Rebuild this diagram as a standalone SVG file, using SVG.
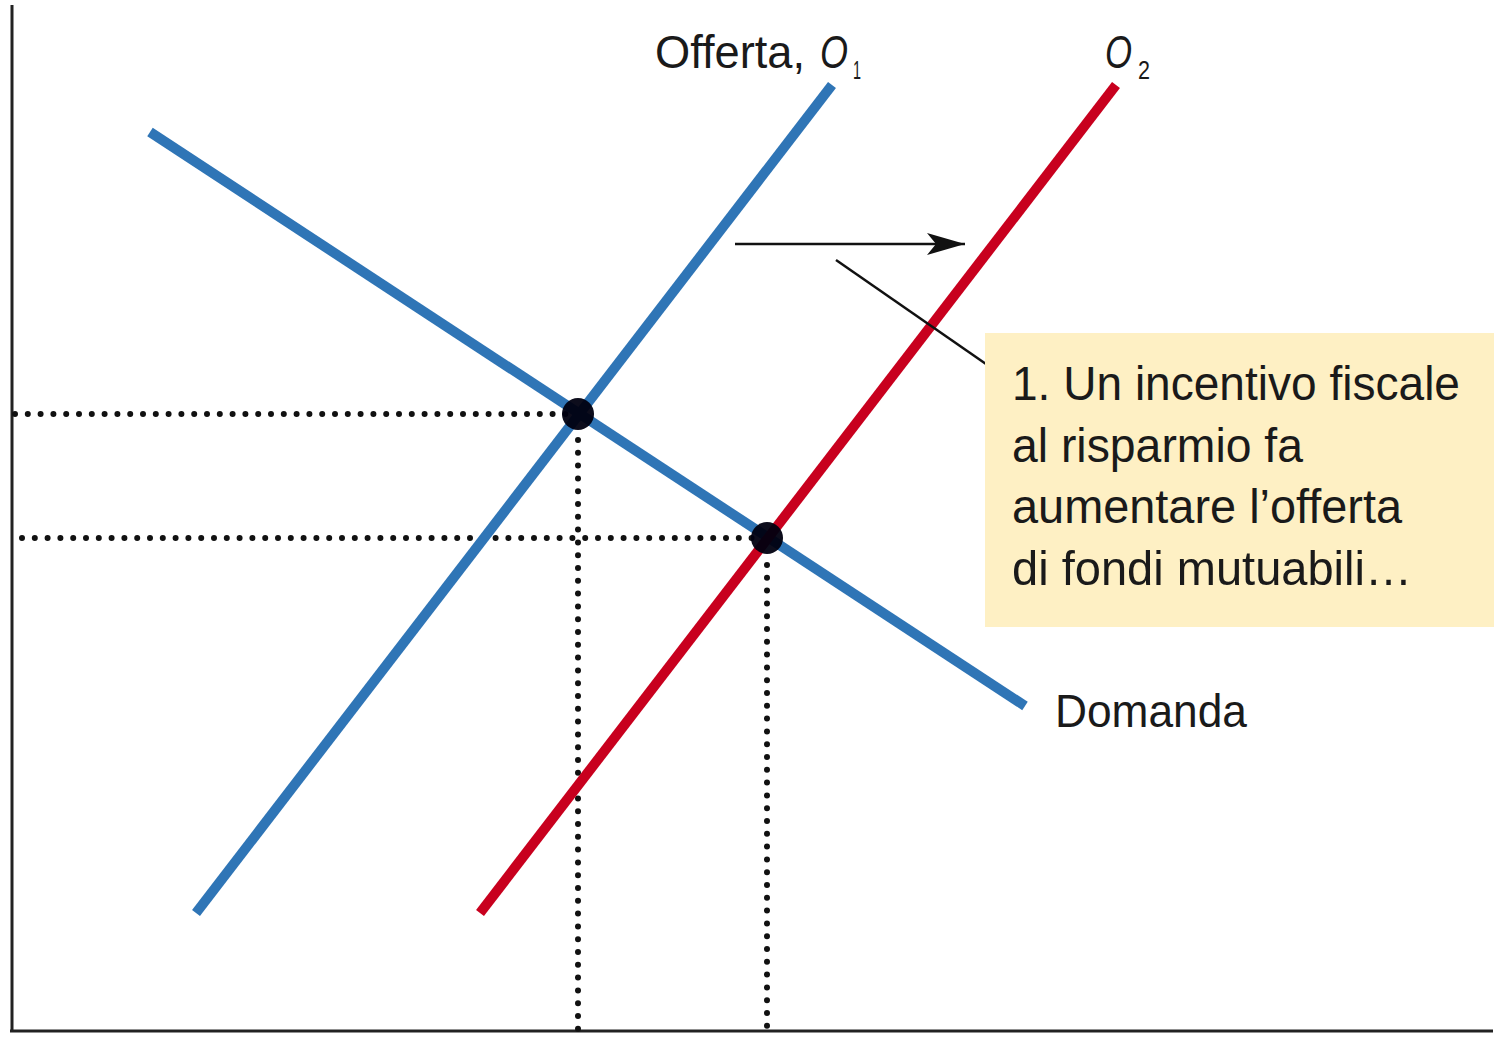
<svg xmlns="http://www.w3.org/2000/svg" width="1501" height="1038" viewBox="0 0 1501 1038">
<style>
.t{font-family:"Liberation Sans Narrow","Liberation Sans",Arial,sans-serif;fill:#1a1a1a;}
.dot{stroke:#111;stroke-width:6;stroke-linecap:round;stroke-dasharray:0 12.8;fill:none;}
.blue{stroke:#2F75B6;stroke-width:10;fill:none;}
.red{stroke:#C8001E;stroke-width:10;fill:none;}
</style>
<defs>
<marker id="ah" markerWidth="40" markerHeight="24" refX="38" refY="12" orient="auto" markerUnits="userSpaceOnUse">
<path d="M0,1 L38,12 L0,23 L9,12 Z" fill="#111"/>
</marker>
</defs>
<rect width="1501" height="1038" fill="#fff"/>
<g id="axes" stroke="#222" stroke-width="3" fill="none">
<line x1="12" y1="5" x2="12" y2="1032"/>
<line x1="10" y1="1031" x2="1493" y2="1031"/>
</g>
<g id="guides">
<line class="dot" x1="15" y1="414" x2="575" y2="414"/>
<line class="dot" x1="22" y1="538" x2="764" y2="538"/>
<line class="dot" x1="578" y1="440" x2="578" y2="1031"/>
<line class="dot" x1="767" y1="565" x2="767" y2="1031"/>
</g>
<g id="connectors">
<line id="demand" class="blue" x1="150" y1="132" x2="1025" y2="706"/>
<line id="supply1" class="blue" x1="196" y1="913" x2="832" y2="85"/>
<line id="supply2" class="red" x1="480" y1="913" x2="1116" y2="85"/>
<line id="shift" x1="735" y1="244" x2="965" y2="244" stroke="#111" stroke-width="2.5" marker-end="url(#ah)"/>
<line id="leader" x1="836" y1="260" x2="986" y2="364" stroke="#111" stroke-width="2.5"/>
</g>
<g id="eq1"><circle cx="578" cy="414" r="16" fill="#000010" opacity="0.95"/></g>
<g id="eq2"><circle cx="767" cy="538" r="16" fill="#000010" opacity="0.95"/></g>
<g id="label-o1">
<text class="t" x="655" y="68" font-size="46" textLength="150" lengthAdjust="spacingAndGlyphs">Offerta,</text>
<text class="t" x="820" y="68" font-size="46" font-style="italic" textLength="28" lengthAdjust="spacingAndGlyphs">O</text>
<text class="t" x="853" y="79" font-size="26" textLength="8" lengthAdjust="spacingAndGlyphs">1</text>
</g>
<g id="label-o2">
<text class="t" x="1105" y="68" font-size="46" font-style="italic" textLength="27" lengthAdjust="spacingAndGlyphs">O</text>
<text class="t" x="1138" y="79" font-size="26" textLength="12" lengthAdjust="spacingAndGlyphs">2</text>
</g>
<g id="label-demand">
<text class="t" x="1055" y="727" font-size="46" textLength="192" lengthAdjust="spacingAndGlyphs">Domanda</text>
</g>
<g id="note">
<rect x="985" y="333" width="509" height="294" fill="#FEF0C4"/>
<text class="t" x="1012" y="400" font-size="49" textLength="448" lengthAdjust="spacingAndGlyphs">1. Un incentivo fiscale</text>
<text class="t" x="1012" y="462" font-size="49" textLength="291" lengthAdjust="spacingAndGlyphs">al risparmio fa</text>
<text class="t" x="1012" y="523" font-size="49" textLength="390" lengthAdjust="spacingAndGlyphs">aumentare l’offerta</text>
<text class="t" x="1012" y="585" font-size="49" textLength="400" lengthAdjust="spacingAndGlyphs">di fondi mutuabili…</text>
</g>
</svg>
